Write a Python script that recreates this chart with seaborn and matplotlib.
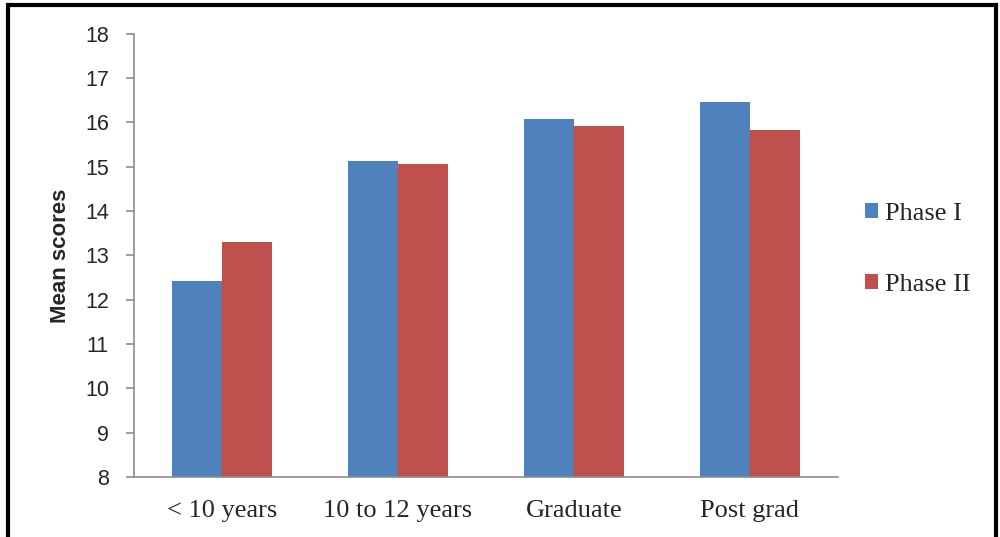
import pandas as pd
import matplotlib.pyplot as plt
import seaborn as sns
from matplotlib.patches import Rectangle

# data
categories = ['< 10 years', '10 to 12 years', 'Graduate', 'Post grad']
phase_1 = [12.42, 15.14, 16.08, 16.45]
phase_2 = [13.29, 15.07, 15.91, 15.82]

df = pd.DataFrame({
    'category': categories * 2,
    'phase': ['Phase I'] * 4 + ['Phase II'] * 4,
    'score': phase_1 + phase_2,
})

sns.set_style('white')
fig = plt.figure(figsize=(10, 5.37), dpi=100)
ax = fig.add_axes([0.134, 0.112, 0.704, 0.825])

sns.barplot(data=df, x='category', y='score', hue='phase',
            palette=['#4F81BD', '#C0504D'], width=0.57, saturation=1,
            edgecolor='none', ax=ax)

ax.set_ylim(8, 18)
ax.set_xlim(-0.5, 3.5)
ax.set_yticks(range(8, 19))
ax.set_yticklabels([str(v) for v in range(8, 19)], fontsize=15.5,
                   family='Liberation Sans')
ax.set_xticks(range(4))
ax.set_xticklabels(categories, fontsize=19, family='Liberation Serif')
ax.set_xticks([-0.5, 0.5, 1.5, 2.5, 3.5], minor=True)
ax.tick_params(axis='x', which='major', length=0, pad=16.5)
ax.tick_params(axis='x', which='minor', length=7, color='#8c8c8c', width=1.2)
ax.tick_params(axis='y', length=6, color='#8c8c8c', width=1.2, pad=12, left=True)
ax.set_xlabel('')
ax.set_ylabel('Mean scores', fontsize=16, fontweight='bold',
              family='Liberation Sans', labelpad=10)

for s in ['top', 'right']:
    ax.spines[s].set_visible(False)
for s in ['left', 'bottom']:
    ax.spines[s].set_color('#8c8c8c')
    ax.spines[s].set_linewidth(1.2)

leg = ax.legend(loc='center left', bbox_to_anchor=(0.8415, 0.536),
                bbox_transform=fig.transFigure, frameon=False,
                prop={'family': 'Liberation Serif', 'size': 19},
                handlelength=0.5, handleheight=0.5, labelspacing=1.86,
                handletextpad=0.25)

# outer frame around the chart
fig.patches.append(Rectangle((0.008, -0.05), 0.988, 1.04, transform=fig.transFigure,
                             fill=False, edgecolor='black', linewidth=3))

fig.savefig('out.png', dpi=100)
